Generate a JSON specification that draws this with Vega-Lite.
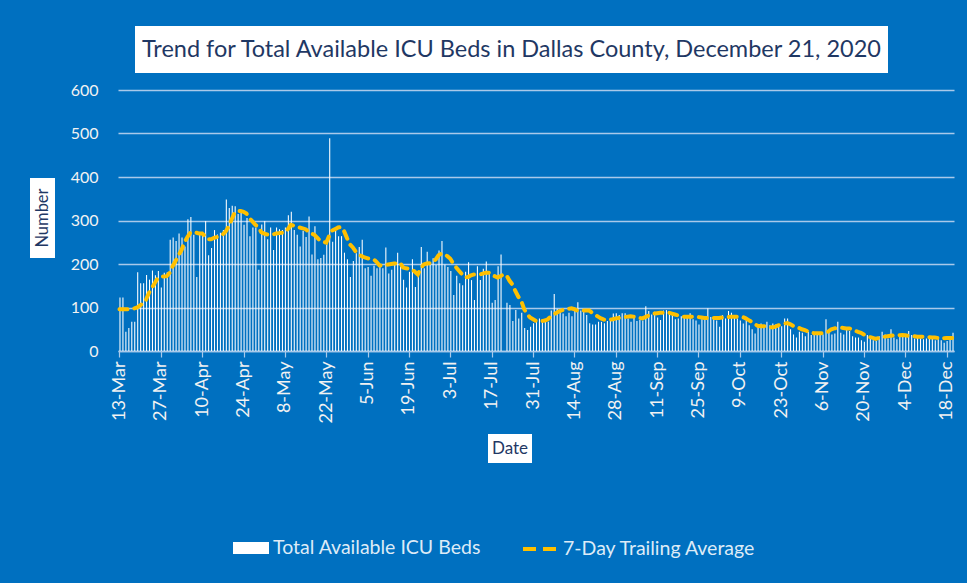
{
"$schema": "https://vega.github.io/schema/vega-lite/v6.json",
"background": "#0070C0",
"padding": {"left": 30, "top": 25, "right": 12, "bottom": 24},
"config": {"view": {"stroke": null}, "font": "Lato", "legend": {"layout": {"bottom": {"anchor": "middle", "direction": "horizontal", "margin": 40}}}},
"datasets": {"icu": [
{"date":"2020-03-13","beds":123,"avg":96},{"date":"2020-03-14","beds":123,"avg":96},{"date":"2020-03-15","beds":44,"avg":96},{"date":"2020-03-16","beds":53,"avg":96},{"date":"2020-03-17","beds":67,"avg":96},{"date":"2020-03-18","beds":67,"avg":98},{"date":"2020-03-19","beds":181,"avg":100},{"date":"2020-03-20","beds":156,"avg":105},{"date":"2020-03-21","beds":156,"avg":110},{"date":"2020-03-22","beds":175,"avg":118},{"date":"2020-03-23","beds":164,"avg":134},{"date":"2020-03-24","beds":185,"avg":145},{"date":"2020-03-25","beds":174,"avg":157},{"date":"2020-03-26","beds":184,"avg":168},{"date":"2020-03-27","beds":146,"avg":171},{"date":"2020-03-28","beds":180,"avg":171},{"date":"2020-03-29","beds":181,"avg":172},{"date":"2020-03-30","beds":256,"avg":180},{"date":"2020-03-31","beds":261,"avg":195},
{"date":"2020-04-01","beds":253,"avg":207},{"date":"2020-04-02","beds":270,"avg":220},{"date":"2020-04-03","beds":261,"avg":232},{"date":"2020-04-04","beds":240,"avg":250},{"date":"2020-04-05","beds":303,"avg":262},{"date":"2020-04-06","beds":308,"avg":272},{"date":"2020-04-07","beds":267,"avg":274},{"date":"2020-04-08","beds":170,"avg":272},{"date":"2020-04-09","beds":267,"avg":270},{"date":"2020-04-10","beds":267,"avg":270},{"date":"2020-04-11","beds":299,"avg":264},{"date":"2020-04-12","beds":220,"avg":257},{"date":"2020-04-13","beds":237,"avg":257},{"date":"2020-04-14","beds":278,"avg":260},{"date":"2020-04-15","beds":268,"avg":262},{"date":"2020-04-16","beds":272,"avg":265},{"date":"2020-04-17","beds":278,"avg":268},{"date":"2020-04-18","beds":348,"avg":275},{"date":"2020-04-19","beds":329,"avg":287},{"date":"2020-04-20","beds":334,"avg":303},{"date":"2020-04-21","beds":333,"avg":318},{"date":"2020-04-22","beds":315,"avg":322},{"date":"2020-04-23","beds":322,"avg":322},{"date":"2020-04-24","beds":290,"avg":320},{"date":"2020-04-25","beds":306,"avg":316},{"date":"2020-04-26","beds":264,"avg":305},{"date":"2020-04-27","beds":284,"avg":298},{"date":"2020-04-28","beds":284,"avg":290},{"date":"2020-04-29","beds":187,"avg":285},{"date":"2020-04-30","beds":291,"avg":273},
{"date":"2020-05-01","beds":299,"avg":270},{"date":"2020-05-02","beds":257,"avg":268},{"date":"2020-05-03","beds":284,"avg":267},{"date":"2020-05-04","beds":232,"avg":268},{"date":"2020-05-05","beds":284,"avg":270},{"date":"2020-05-06","beds":280,"avg":271},{"date":"2020-05-07","beds":278,"avg":272},{"date":"2020-05-08","beds":284,"avg":272},{"date":"2020-05-09","beds":312,"avg":280},{"date":"2020-05-10","beds":320,"avg":290},{"date":"2020-05-11","beds":278,"avg":288},{"date":"2020-05-12","beds":267,"avg":285},{"date":"2020-05-13","beds":240,"avg":284},{"date":"2020-05-14","beds":276,"avg":282},{"date":"2020-05-15","beds":262,"avg":280},{"date":"2020-05-16","beds":309,"avg":275},{"date":"2020-05-17","beds":222,"avg":270},{"date":"2020-05-18","beds":287,"avg":267},{"date":"2020-05-19","beds":211,"avg":260},{"date":"2020-05-20","beds":214,"avg":253},{"date":"2020-05-21","beds":221,"avg":251},{"date":"2020-05-22","beds":245,"avg":249},{"date":"2020-05-23","beds":489,"avg":265},{"date":"2020-05-24","beds":251,"avg":277},{"date":"2020-05-25","beds":276,"avg":280},{"date":"2020-05-26","beds":264,"avg":284},{"date":"2020-05-27","beds":264,"avg":285},{"date":"2020-05-28","beds":226,"avg":276},{"date":"2020-05-29","beds":211,"avg":260},{"date":"2020-05-30","beds":170,"avg":245},{"date":"2020-05-31","beds":207,"avg":238},
{"date":"2020-06-01","beds":225,"avg":228},{"date":"2020-06-02","beds":239,"avg":222},{"date":"2020-06-03","beds":256,"avg":218},{"date":"2020-06-04","beds":190,"avg":215},{"date":"2020-06-05","beds":193,"avg":213},{"date":"2020-06-06","beds":173,"avg":212},{"date":"2020-06-07","beds":196,"avg":211},{"date":"2020-06-08","beds":190,"avg":205},{"date":"2020-06-09","beds":199,"avg":197},{"date":"2020-06-10","beds":190,"avg":196},{"date":"2020-06-11","beds":238,"avg":197},{"date":"2020-06-12","beds":178,"avg":199},{"date":"2020-06-13","beds":187,"avg":200},{"date":"2020-06-14","beds":199,"avg":201},{"date":"2020-06-15","beds":226,"avg":202},{"date":"2020-06-16","beds":194,"avg":203},{"date":"2020-06-17","beds":164,"avg":192},{"date":"2020-06-18","beds":146,"avg":190},{"date":"2020-06-19","beds":182,"avg":189},{"date":"2020-06-20","beds":211,"avg":188},{"date":"2020-06-21","beds":147,"avg":182},{"date":"2020-06-22","beds":171,"avg":176},{"date":"2020-06-23","beds":239,"avg":190},{"date":"2020-06-24","beds":190,"avg":199},{"date":"2020-06-25","beds":228,"avg":201},{"date":"2020-06-26","beds":201,"avg":202},{"date":"2020-06-27","beds":213,"avg":203},{"date":"2020-06-28","beds":198,"avg":210},{"date":"2020-06-29","beds":231,"avg":220},{"date":"2020-06-30","beds":253,"avg":224},
{"date":"2020-07-01","beds":199,"avg":222},{"date":"2020-07-02","beds":193,"avg":218},{"date":"2020-07-03","beds":184,"avg":212},{"date":"2020-07-04","beds":129,"avg":201},{"date":"2020-07-05","beds":173,"avg":192},{"date":"2020-07-06","beds":156,"avg":184},{"date":"2020-07-07","beds":151,"avg":176},{"date":"2020-07-08","beds":182,"avg":169},{"date":"2020-07-09","beds":204,"avg":170},{"date":"2020-07-10","beds":163,"avg":174},{"date":"2020-07-11","beds":117,"avg":176},{"date":"2020-07-12","beds":195,"avg":176},{"date":"2020-07-13","beds":163,"avg":176},{"date":"2020-07-14","beds":189,"avg":178},{"date":"2020-07-15","beds":206,"avg":180},{"date":"2020-07-16","beds":178,"avg":180},{"date":"2020-07-17","beds":111,"avg":178},{"date":"2020-07-18","beds":117,"avg":172},{"date":"2020-07-19","beds":195,"avg":169},{"date":"2020-07-20","beds":222,"avg":172},{"date":"2020-07-21","beds":null,"avg":176},{"date":"2020-07-22","beds":111,"avg":174},{"date":"2020-07-23","beds":106,"avg":162},{"date":"2020-07-24","beds":69,"avg":153},{"date":"2020-07-25","beds":94,"avg":138},{"date":"2020-07-26","beds":75,"avg":125},{"date":"2020-07-27","beds":88,"avg":115},{"date":"2020-07-28","beds":53,"avg":96},{"date":"2020-07-29","beds":48,"avg":85},{"date":"2020-07-30","beds":56,"avg":77},{"date":"2020-07-31","beds":64,"avg":73},
{"date":"2020-08-01","beds":69,"avg":69},{"date":"2020-08-02","beds":75,"avg":69},{"date":"2020-08-03","beds":73,"avg":69},{"date":"2020-08-04","beds":73,"avg":70},{"date":"2020-08-05","beds":67,"avg":73},{"date":"2020-08-06","beds":93,"avg":80},{"date":"2020-08-07","beds":131,"avg":84},{"date":"2020-08-08","beds":97,"avg":88},{"date":"2020-08-09","beds":93,"avg":92},{"date":"2020-08-10","beds":86,"avg":94},{"date":"2020-08-11","beds":80,"avg":96},{"date":"2020-08-12","beds":88,"avg":97},{"date":"2020-08-13","beds":80,"avg":98},{"date":"2020-08-14","beds":92,"avg":96},{"date":"2020-08-15","beds":112,"avg":93},{"date":"2020-08-16","beds":93,"avg":93},{"date":"2020-08-17","beds":91,"avg":93},{"date":"2020-08-18","beds":83,"avg":93},{"date":"2020-08-19","beds":64,"avg":93},{"date":"2020-08-20","beds":61,"avg":88},{"date":"2020-08-21","beds":61,"avg":83},{"date":"2020-08-22","beds":67,"avg":79},{"date":"2020-08-23","beds":67,"avg":75},{"date":"2020-08-24","beds":64,"avg":72},{"date":"2020-08-25","beds":69,"avg":71},{"date":"2020-08-26","beds":73,"avg":72},{"date":"2020-08-27","beds":86,"avg":73},{"date":"2020-08-28","beds":87,"avg":75},{"date":"2020-08-29","beds":83,"avg":76},{"date":"2020-08-30","beds":87,"avg":77},{"date":"2020-08-31","beds":87,"avg":78},
{"date":"2020-09-01","beds":75,"avg":79},{"date":"2020-09-02","beds":67,"avg":80},{"date":"2020-09-03","beds":77,"avg":79},{"date":"2020-09-04","beds":69,"avg":78},{"date":"2020-09-05","beds":71,"avg":76},{"date":"2020-09-06","beds":70,"avg":75},{"date":"2020-09-07","beds":103,"avg":78},{"date":"2020-09-08","beds":92,"avg":81},{"date":"2020-09-09","beds":84,"avg":84},{"date":"2020-09-10","beds":90,"avg":86},{"date":"2020-09-11","beds":77,"avg":87},{"date":"2020-09-12","beds":71,"avg":88},{"date":"2020-09-13","beds":93,"avg":88},{"date":"2020-09-14","beds":94,"avg":87},{"date":"2020-09-15","beds":90,"avg":88},{"date":"2020-09-16","beds":84,"avg":86},{"date":"2020-09-17","beds":73,"avg":84},{"date":"2020-09-18","beds":75,"avg":82},{"date":"2020-09-19","beds":80,"avg":80},{"date":"2020-09-20","beds":79,"avg":79},{"date":"2020-09-21","beds":82,"avg":79},{"date":"2020-09-22","beds":87,"avg":79},{"date":"2020-09-23","beds":73,"avg":79},{"date":"2020-09-24","beds":70,"avg":78},{"date":"2020-09-25","beds":61,"avg":78},{"date":"2020-09-26","beds":73,"avg":77},{"date":"2020-09-27","beds":80,"avg":76},{"date":"2020-09-28","beds":98,"avg":76},{"date":"2020-09-29","beds":78,"avg":76},{"date":"2020-09-30","beds":77,"avg":76},
{"date":"2020-10-01","beds":70,"avg":76},{"date":"2020-10-02","beds":56,"avg":76},{"date":"2020-10-03","beds":82,"avg":77},{"date":"2020-10-04","beds":75,"avg":77},{"date":"2020-10-05","beds":92,"avg":78},{"date":"2020-10-06","beds":88,"avg":79},{"date":"2020-10-07","beds":82,"avg":79},{"date":"2020-10-08","beds":75,"avg":79},{"date":"2020-10-09","beds":70,"avg":79},{"date":"2020-10-10","beds":63,"avg":78},{"date":"2020-10-11","beds":71,"avg":75},{"date":"2020-10-12","beds":59,"avg":71},{"date":"2020-10-13","beds":50,"avg":67},{"date":"2020-10-14","beds":40,"avg":62},{"date":"2020-10-15","beds":56,"avg":58},{"date":"2020-10-16","beds":63,"avg":57},{"date":"2020-10-17","beds":59,"avg":57},{"date":"2020-10-18","beds":67,"avg":56},{"date":"2020-10-19","beds":59,"avg":55},{"date":"2020-10-20","beds":63,"avg":54},{"date":"2020-10-21","beds":61,"avg":56},{"date":"2020-10-22","beds":55,"avg":59},{"date":"2020-10-23","beds":57,"avg":61},{"date":"2020-10-24","beds":75,"avg":63},{"date":"2020-10-25","beds":75,"avg":64},{"date":"2020-10-26","beds":50,"avg":62},{"date":"2020-10-27","beds":38,"avg":58},{"date":"2020-10-28","beds":31,"avg":56},{"date":"2020-10-29","beds":44,"avg":53},{"date":"2020-10-30","beds":42,"avg":50},{"date":"2020-10-31","beds":34,"avg":48},
{"date":"2020-11-01","beds":44,"avg":45},{"date":"2020-11-02","beds":37,"avg":43},{"date":"2020-11-03","beds":38,"avg":41},{"date":"2020-11-04","beds":42,"avg":41},{"date":"2020-11-05","beds":42,"avg":41},{"date":"2020-11-06","beds":38,"avg":41},{"date":"2020-11-07","beds":73,"avg":41},{"date":"2020-11-08","beds":46,"avg":45},{"date":"2020-11-09","beds":38,"avg":50},{"date":"2020-11-10","beds":40,"avg":52},{"date":"2020-11-11","beds":67,"avg":53},{"date":"2020-11-12","beds":42,"avg":54},{"date":"2020-11-13","beds":38,"avg":53},{"date":"2020-11-14","beds":55,"avg":52},{"date":"2020-11-15","beds":46,"avg":52},{"date":"2020-11-16","beds":34,"avg":50},{"date":"2020-11-17","beds":31,"avg":47},{"date":"2020-11-18","beds":31,"avg":44},{"date":"2020-11-19","beds":25,"avg":42},{"date":"2020-11-20","beds":21,"avg":38},{"date":"2020-11-21","beds":37,"avg":34},{"date":"2020-11-22","beds":32,"avg":32},{"date":"2020-11-23","beds":25,"avg":30},{"date":"2020-11-24","beds":23,"avg":28},{"date":"2020-11-25","beds":34,"avg":30},{"date":"2020-11-26","beds":44,"avg":32},{"date":"2020-11-27","beds":38,"avg":33},{"date":"2020-11-28","beds":29,"avg":34},{"date":"2020-11-29","beds":50,"avg":35},{"date":"2020-11-30","beds":31,"avg":36},
{"date":"2020-12-01","beds":27,"avg":36},{"date":"2020-12-02","beds":38,"avg":36},{"date":"2020-12-03","beds":37,"avg":37},{"date":"2020-12-04","beds":32,"avg":36},{"date":"2020-12-05","beds":46,"avg":35},{"date":"2020-12-06","beds":37,"avg":34},{"date":"2020-12-07","beds":29,"avg":34},{"date":"2020-12-08","beds":34,"avg":33},{"date":"2020-12-09","beds":29,"avg":33},{"date":"2020-12-10","beds":27,"avg":33},{"date":"2020-12-11","beds":29,"avg":32},{"date":"2020-12-12","beds":31,"avg":32},{"date":"2020-12-13","beds":31,"avg":31},{"date":"2020-12-14","beds":25,"avg":31},{"date":"2020-12-15","beds":27,"avg":30},{"date":"2020-12-16","beds":25,"avg":28},{"date":"2020-12-17","beds":19,"avg":29},{"date":"2020-12-18","beds":23,"avg":30},{"date":"2020-12-19","beds":27,"avg":30},{"date":"2020-12-20","beds":42,"avg":30}
]},
"spacing": 9,
"vconcat": [
{"hconcat": [
  {"width": 90, "height": 10, "data": {"values": [{}]}, "mark": {"type": "text"}, "encoding": {"text": {"value": ""}}},
  {"width": 753, "height": 47, "view": {"fill": "#FFFFFF"}, "data": {"values": [{}]},
   "mark": {"type": "text", "fontSize": 23.5, "color": "#1F3864", "align": "center", "baseline": "middle"},
   "encoding": {"text": {"value": "Trend for Total Available ICU Beds in Dallas County, December 21, 2020"}}}
 ], "spacing": 15},
{"hconcat": [
  {"vconcat": [
    {"width": 25, "height": 88, "data": {"values": [{}]}, "mark": {"type": "text"}, "encoding": {"text": {"value": ""}}},
    {"width": 25, "height": 80, "view": {"fill": "#FFFFFF"}, "data": {"values": [{}]},
     "mark": {"type": "text", "fontSize": 16.5, "color": "#1F3864", "angle": 270, "align": "center", "baseline": "middle"},
     "encoding": {"text": {"value": "Number"}}}
   ], "spacing": 0},
  {"width": 836, "height": 261, "data": {"name": "icu"},
   "layer": [
    {"mark": {"type": "bar", "width": {"band": 0.7}},
     "encoding": {
      "x": {"field": "date", "type": "temporal", "timeUnit": "utcyearmonthdate", "title": null,
        "scale": {"domain": [{"year": 2020, "month": 3, "date": 13, "utc": true}, {"year": 2020, "month": 12, "date": 21, "utc": true}]},
        "axis": {"values": [
          {"year": 2020, "month": 3, "date": 13, "hours": 12, "utc": true},
          {"year": 2020, "month": 3, "date": 27, "hours": 12, "utc": true},
          {"year": 2020, "month": 4, "date": 10, "hours": 12, "utc": true},
          {"year": 2020, "month": 4, "date": 24, "hours": 12, "utc": true},
          {"year": 2020, "month": 5, "date": 8, "hours": 12, "utc": true},
          {"year": 2020, "month": 5, "date": 22, "hours": 12, "utc": true},
          {"year": 2020, "month": 6, "date": 5, "hours": 12, "utc": true},
          {"year": 2020, "month": 6, "date": 19, "hours": 12, "utc": true},
          {"year": 2020, "month": 7, "date": 3, "hours": 12, "utc": true},
          {"year": 2020, "month": 7, "date": 17, "hours": 12, "utc": true},
          {"year": 2020, "month": 7, "date": 31, "hours": 12, "utc": true},
          {"year": 2020, "month": 8, "date": 14, "hours": 12, "utc": true},
          {"year": 2020, "month": 8, "date": 28, "hours": 12, "utc": true},
          {"year": 2020, "month": 9, "date": 11, "hours": 12, "utc": true},
          {"year": 2020, "month": 9, "date": 25, "hours": 12, "utc": true},
          {"year": 2020, "month": 10, "date": 9, "hours": 12, "utc": true},
          {"year": 2020, "month": 10, "date": 23, "hours": 12, "utc": true},
          {"year": 2020, "month": 11, "date": 6, "hours": 12, "utc": true},
          {"year": 2020, "month": 11, "date": 20, "hours": 12, "utc": true},
          {"year": 2020, "month": 12, "date": 4, "hours": 12, "utc": true},
          {"year": 2020, "month": 12, "date": 18, "hours": 12, "utc": true}],
          "format": "%-d-%b", "labelAngle": -90, "labelColor": "#F2F2F2", "labelFontSize": 18, "labelPadding": 4,
          "grid": false, "tickColor": "#A9C9EA", "tickSize": 6, "tickWidth": 1.2, "domainColor": "#A9C9EA", "domainWidth": 1.5,
          "labelFlush": false, "labelOverlap": false}},
      "y": {"field": "beds", "type": "quantitative", "title": null, "scale": {"domain": [0, 600]},
        "axis": {"values": [0, 100, 200, 300, 400, 500, 600], "grid": true, "gridColor": "#A9C9EA", "gridWidth": 1.5,
          "domain": false, "ticks": false, "labelColor": "#F2F2F2", "labelFontSize": 16, "labelPadding": 20}},
      "fill": {"datum": "Total Available ICU Beds", "type": "nominal", "scale": {"range": ["#FFFFFF"]},
        "legend": {"title": null, "orient": "bottom", "offset": 67, "symbolType": "M-1,-0.33H1V0.33H-1Z", "symbolSize": 1296,
          "symbolStrokeWidth": 0, "labelColor": "#DDEBF7", "labelFontSize": 19.5, "labelFont": "Lato", "labelLimit": 0}}
     }},
    {"mark": {"type": "line", "strokeWidth": 4, "strokeDash": [8, 7], "strokeCap": "round"},
     "encoding": {
      "x": {"field": "date", "type": "temporal", "timeUnit": "utcyearmonthdate", "bandPosition": 0.5},
      "y": {"field": "avg", "type": "quantitative"},
      "stroke": {"datum": "7-Day Trailing Average", "type": "nominal", "scale": {"range": ["#FFC000"]},
        "legend": {"title": null, "orient": "bottom", "offset": 67, "symbolType": "stroke", "symbolSize": 1156,
          "symbolStrokeWidth": 4, "symbolDash": [13, 7], "labelColor": "#DDEBF7", "labelFontSize": 19.5, "labelFont": "Lato", "labelLimit": 0}}
     }}
   ]}
 ], "spacing": 15},
{"hconcat": [
  {"width": 443, "height": 10, "data": {"values": [{}]}, "mark": {"type": "text"}, "encoding": {"text": {"value": ""}}},
  {"width": 44, "height": 29, "view": {"fill": "#FFFFFF"}, "data": {"values": [{}]},
   "mark": {"type": "text", "fontSize": 17, "color": "#1F3864", "align": "center", "baseline": "middle"},
   "encoding": {"text": {"value": "Date"}}}
 ], "spacing": 15}
]
}
